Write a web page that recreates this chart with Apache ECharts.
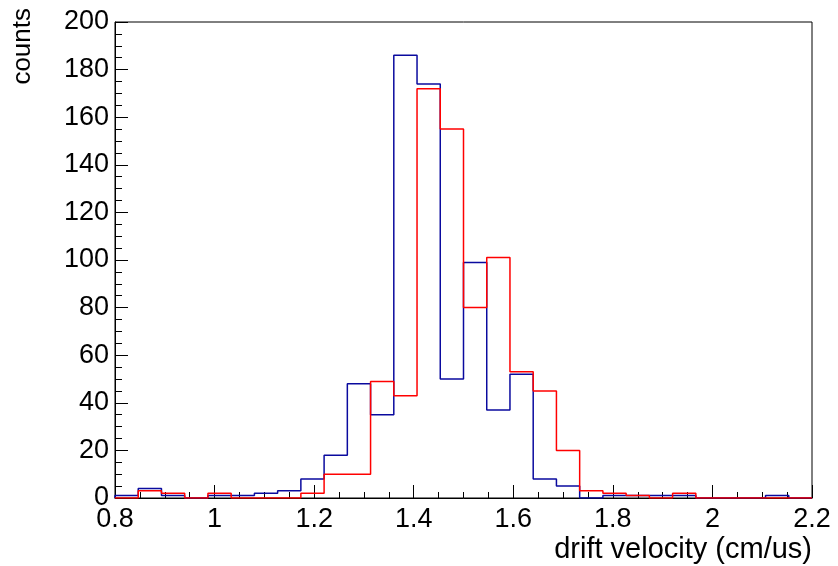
<!DOCTYPE html>
<html>
<head>
<meta charset="utf-8">
<script src="https://cdn.jsdelivr.net/npm/echarts@6/dist/echarts.min.js"></script>
<style>
  html, body { margin: 0; padding: 0; background: #fff; }
  #chart { width: 838px; height: 566px; }
</style>
</head>
<body>
<div id="chart"></div>
<script>
// Histogram binning (30 bins from 0.8 to 2.2)
const xMin = 0.8;
const xMax = 2.2;
const nBins = 30;
// Bin contents
const blueCounts = [1, 4, 1, 0, 1, 1, 2, 3, 8, 18, 48, 35, 186, 174, 50, 99, 37, 52, 8, 5, 0, 1, 1, 1, 1, 0, 0, 0, 1, 0];
const redCounts  = [0, 3, 2, 0, 2, 0, 0, 0, 2, 10, 10, 49, 43, 172, 155, 80, 101, 53, 45, 20, 3, 2, 1, 0, 2, 0, 0, 0, 0, 0];
// Axis settings
const yMin = 0, yMax = 200, yStep = 20, xStep = 0.2;
const xTitle = 'drift velocity (cm/us)';
const yTitle = 'counts';

const binW = (xMax - xMin) / nBins;
function histOutline(vals) {
  const pts = [[xMin, 0]];
  vals.forEach((v, k) => {
    const lo = xMin + k * binW, hi = xMin + (k + 1) * binW;
    pts.push([lo, v], [hi, v]);
  });
  pts.push([xMax, 0]);
  return pts;
}

const FONT = 'Liberation Sans, Arial, Helvetica, sans-serif';
const chart = echarts.init(document.getElementById('chart'), null, { renderer: 'canvas' });
chart.setOption({
  animation: false,
  backgroundColor: '#fff',
  grid: { left: 115, right: 26, top: 22, bottom: 68, show: true, borderColor: '#000', borderWidth: 1, backgroundColor: 'transparent' },
  xAxis: {
    type: 'value', min: xMin, max: xMax, interval: xStep,
    axisLine: { show: true, onZero: false, lineStyle: { color: '#000', width: 1 } },
    axisTick: { show: true, inside: true, length: 13, lineStyle: { color: '#000', width: 1 } },
    minorTick: { show: true, splitNumber: 4, length: 6, lineStyle: { color: '#000', width: 1 } },
    splitLine: { show: false },
    axisLabel: { color: '#000', fontSize: 27, fontFamily: FONT, margin: 8,
      formatter: v => String(Math.round(v * 10) / 10) }
  },
  yAxis: {
    type: 'value', min: yMin, max: yMax, interval: yStep,
    axisLine: { show: true, lineStyle: { color: '#000', width: 1 } },
    axisTick: { show: true, inside: true, length: 13, lineStyle: { color: '#000', width: 1 } },
    minorTick: { show: true, splitNumber: 4, length: 7, lineStyle: { color: '#000', width: 1 } },
    splitLine: { show: false },
    axisLabel: { color: '#000', fontSize: 27, fontFamily: FONT, margin: 6 }
  },
  graphic: [
    { type: 'text', x: 812, y: 550, style: { text: xTitle, fontSize: 29, fontFamily: FONT, fill: '#000', align: 'right', verticalAlign: 'middle' } },
    { type: 'text', x: 23, y: 8, rotation: Math.PI / 2, style: { text: yTitle, fontSize: 26, fontFamily: FONT, fill: '#000', align: 'right', verticalAlign: 'middle' } }
  ],
  series: [
    { type: 'line', name: 'blue', data: histOutline(blueCounts), showSymbol: false, symbol: 'none',
      lineStyle: { color: '#0a0a9e', width: 1.5 }, clip: true, z: 2 },
    { type: 'line', name: 'red', data: histOutline(redCounts), showSymbol: false, symbol: 'none',
      lineStyle: { color: '#ff0000', width: 1.5 }, clip: true, z: 3 }
  ]
});
</script>
</body>
</html>
